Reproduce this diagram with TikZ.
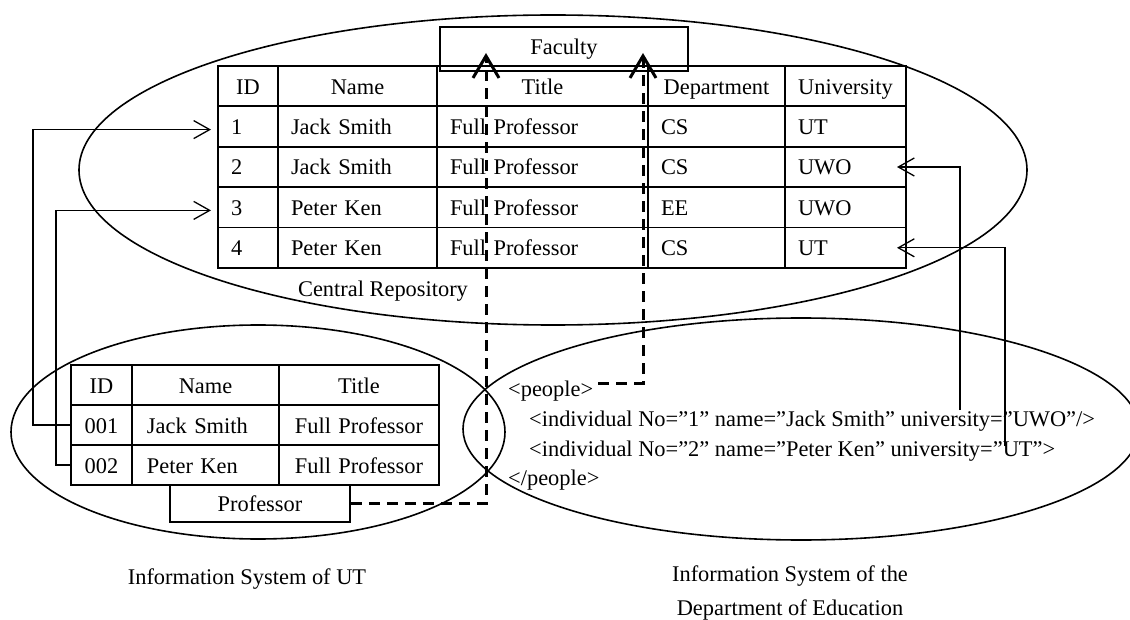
\documentclass[tikz,border=0pt]{standalone}
\usepackage{fontspec}
\setmainfont{Liberation Serif}
\usetikzlibrary{arrows.meta,matrix}
\newcommand\diagfont{\fontsize{22.4pt}{26pt}\selectfont}
\begin{document}
\begin{tikzpicture}[x=1pt,y=-1pt,
  every node/.style={font=\diagfont},
  region/.style={line width=1.6pt},
  cell/.style={draw, line width=1.8pt, inner ysep=0pt, outer sep=0pt,
    text height=18pt, text depth=2pt, anchor=center},
  txt/.style={inner sep=0pt, text height=18pt, text depth=2pt},
  conn/.style={line width=1.3pt, -{Straight Barb[length=16pt,width=18pt]}},
  dasharrow/.style={line width=3pt, dash pattern=on 11pt off 7pt,
    -{Straight Barb[length=22pt,width=26pt]}},
  tablebox/.style={matrix of nodes, anchor=north west, inner sep=0pt,
    outer sep=0pt, row sep=-1.8pt, column sep=-1.8pt}]
\useasboundingbox (0,0) rectangle (1130,620);

% the three information systems
\draw[region] (553,170) ellipse [x radius=474pt, y radius=155pt];
\draw[region] (258,432) ellipse [x radius=247pt, y radius=107pt];
\draw[region] (801,429) ellipse [x radius=338pt, y radius=111pt];

% central repository table
\matrix (ct) [tablebox,
  nodes={cell, minimum height=40.4pt, inner xsep=13pt, align=left},
  column 1/.style={nodes={text width=34pt}},
  column 2/.style={nodes={text width=133pt}},
  column 3/.style={nodes={text width=185pt}},
  column 4/.style={nodes={text width=111pt}},
  column 5/.style={nodes={text width=95pt}},
  row 1/.style={nodes={align=center}}] at (217.1,65.1) {
  ID & Name & Title & Department & University\\
  1 & Jack Smith & Full Professor & CS & UT\\
  2 & Jack Smith & Full Professor & CS & UWO\\
  3 & Peter Ken & Full Professor & EE & UWO\\
  4 & Peter Ken & Full Professor & CS & UT\\
};
\node[draw, line width=1.4pt, minimum width=248pt, minimum height=44pt,
  inner sep=0pt] (fac) at (564,49) {Faculty};
\node[txt] (crlab) at (383,289) {Central Repository};

% UT table
\matrix (lt) [tablebox,
  nodes={cell, minimum height=40pt, inner xsep=12pt, align=center},
  column 1/.style={nodes={text width=37pt}},
  column 2/.style={nodes={text width=117pt, inner xsep=15pt, align=left}},
  column 3/.style={nodes={text width=136pt}},
  row 1/.style={nodes={align=center}}] at (70.1,364.1) {
  ID & Name & Title\\
  001 & Jack Smith & Full Professor\\
  002 & Peter Ken & Full Professor\\
};
\node[draw, fill=white, line width=1.8pt, minimum width=180pt,
  minimum height=37pt, inner sep=0pt] (prof) at (260,503.5) {Professor};

% XML document of the Department of Education
\node[txt, anchor=west] (xp1) at (508,388) {<people>};
\node[txt, anchor=west] (xi1) at (529,418) {<individual No=”1” name=”Jack Smith” university=”UWO”/>};
\node[txt, anchor=west] (xi2) at (529,448) {<individual No=”2” name=”Peter Ken” university=”UT”>};
\node[txt, anchor=west] (xp2) at (508,477) {</people>};

% captions
\node[txt] (utlab) at (247,576) {Information System of UT};
\node[txt] (edlab1) at (790,573) {Information System of the};
\node[txt] (edlab2) at (790,607) {Department of Education};

% record mappings
\draw[conn] (lt-2-1.west) -- ++(-38,0) |- ([xshift=-7pt,yshift=-3pt]ct-2-1.west);
\draw[conn] (lt-3-1.west) -- ++(-15,0) |- ([xshift=-7pt,yshift=-3pt]ct-4-1.west);
\coordinate (uwoEnd) at (960,410);
\coordinate (utEnd) at (1005,446);
\draw[conn] (uwoEnd) |- ([xshift=-9pt]ct-3-5.east);
\draw[conn] (utEnd) |- ([xshift=-9pt]ct-5-5.east);

% schema mappings
\coordinate (facA) at (486,53);
\coordinate (facB) at (643,53);
\draw[dasharrow] (prof.east) -| (facA);
\draw[dasharrow] ([xshift=5pt,yshift=5pt]xp1.east) -| (facB);
\end{tikzpicture}
\end{document}
